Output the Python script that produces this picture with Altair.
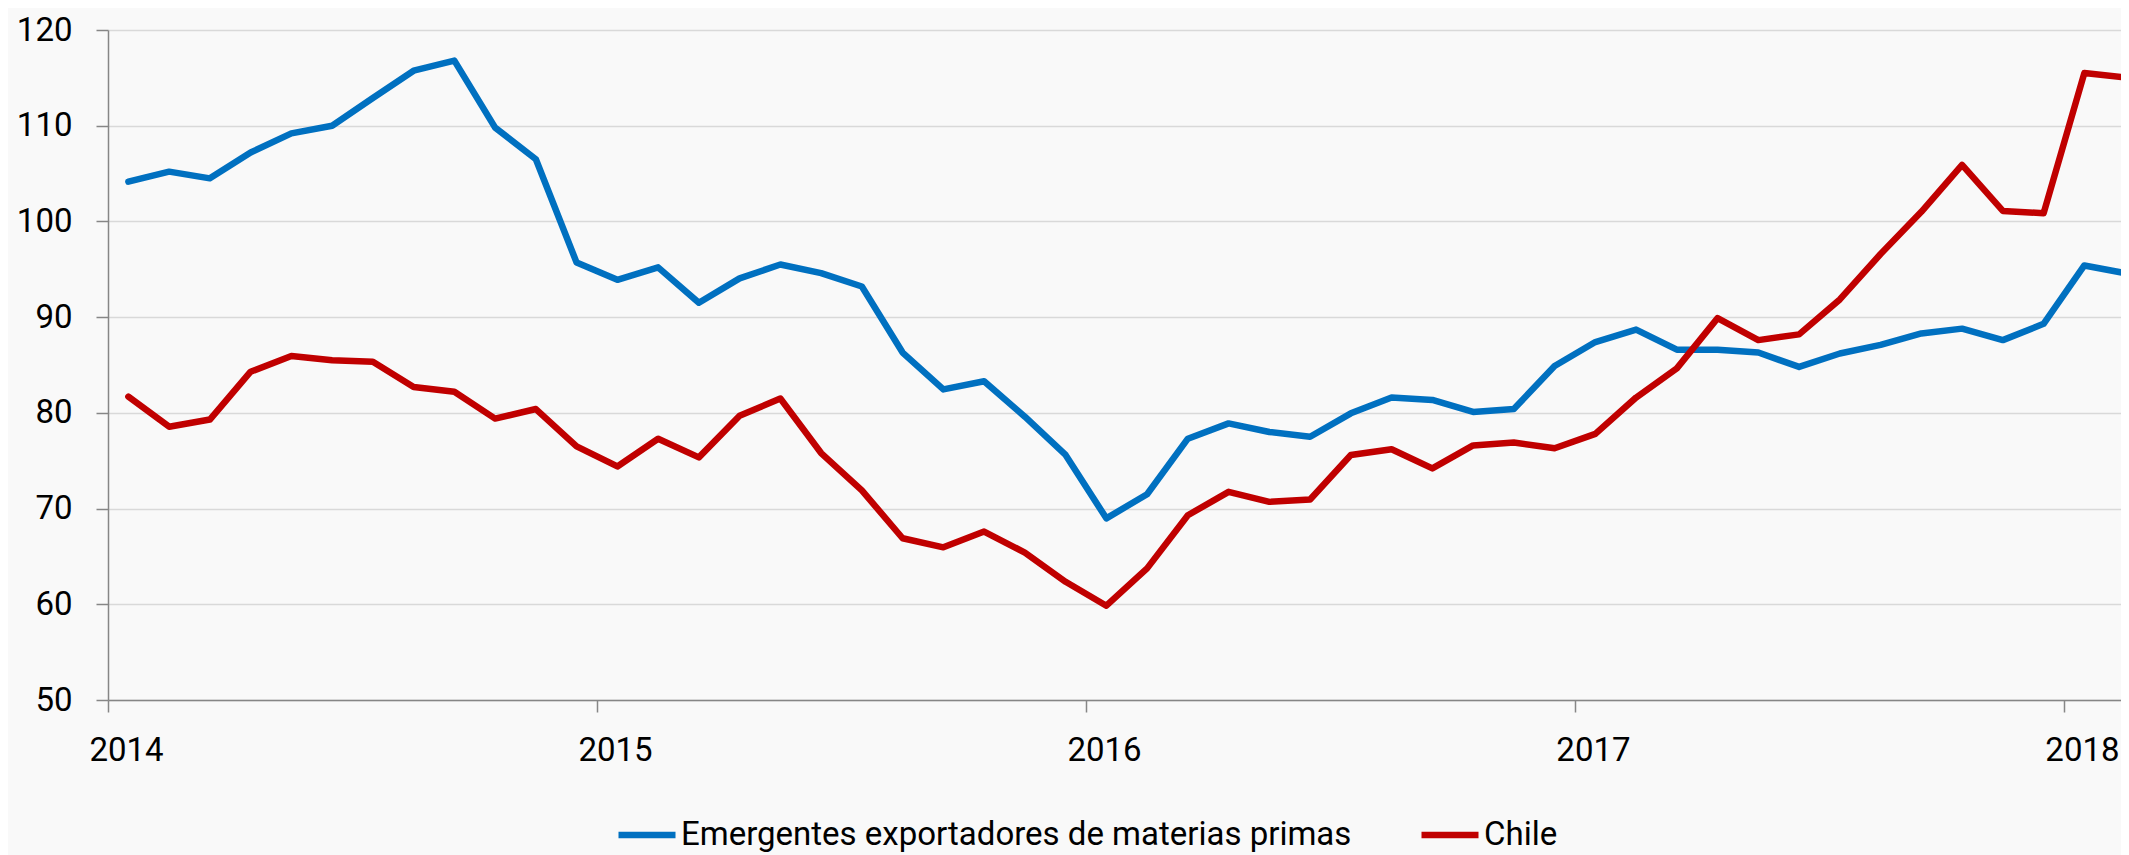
import altair as alt
import pandas as pd

# Monthly index, Jan 2014 .. Feb 2018
months = [f"{y}-{m:02d}" for y in range(2014, 2019) for m in range(1, 13)][:50]

serie_names = ["Emergentes exportadores de materias primas", "Chile"]

emergentes = [104.15, 105.2, 104.5, 107.2, 109.2, 110.0, 112.9, 115.75, 116.8, 109.8,
              106.5, 95.7, 93.9, 95.2, 91.5, 94.05, 95.5, 94.6, 93.2, 86.3,
              82.45, 83.3, 79.6, 75.6, 68.98, 71.5, 77.3, 78.9, 78.0, 77.5,
              79.95, 81.6, 81.35, 80.1, 80.4, 84.9, 87.4, 88.7, 86.6, 86.6,
              86.3, 84.8, 86.2, 87.1, 88.3, 88.8, 87.6, 89.3, 95.4, 94.6]

chile = [81.7, 78.55, 79.3, 84.3, 85.95, 85.5, 85.35, 82.7, 82.2, 79.4,
         80.4, 76.5, 74.4, 77.3, 75.35, 79.7, 81.5, 75.8, 71.9, 66.9,
         65.95, 67.6, 65.4, 62.35, 59.85, 63.75, 69.3, 71.75, 70.7, 70.95,
         75.6, 76.2, 74.2, 76.6, 76.9, 76.3, 77.8, 81.6, 84.65, 89.9,
         87.6, 88.2, 91.85, 96.6, 101.0, 105.9, 101.1, 100.85, 115.5, 115.05]

year_ticks = [-0.5, 11.5, 23.5, 35.5, 47.5]
y_ticks = [50, 60, 70, 80, 90, 100, 110, 120]

rows = []
for name, vals in zip(serie_names, [emergentes, chile]):
    for i, (m, v) in enumerate(zip(months, vals)):
        rows.append({"mes": m, "idx": i, "serie": name, "valor": v})
df = pd.DataFrame(rows)

FONT = "Roboto"
FS = 33
AX = "#868686"

chart = (
    alt.Chart(df)
    .mark_line(strokeWidth=6.5, strokeCap="round", strokeJoin="round", clip=True)
    .encode(
        x=alt.X(
            "idx:Q",
            scale=alt.Scale(domain=[-0.5, 48.9], nice=False, zero=False),
            axis=alt.Axis(
                values=year_ticks,
                labelExpr="toString(2014 + round((datum.value + 0.5) / 12))",
                labelOffset=18,
                grid=False,
                title=None,
                tickSize=12,
                labelPadding=22,
                labelFontSize=FS,
                labelFont=FONT,
                labelColor="#000000",
                domainColor=AX,
                domainWidth=1.5,
                tickColor=AX,
                tickWidth=1.5,
                labelFlush=False,
                labelOverlap=False,
            ),
        ),
        y=alt.Y(
            "valor:Q",
            scale=alt.Scale(domain=[50, 120], nice=False, zero=False),
            axis=alt.Axis(
                values=y_ticks,
                title=None,
                grid=True,
                gridColor="#d9d9d9",
                gridWidth=1.5,
                tickSize=12,
                labelPadding=24,
                labelFontSize=FS,
                labelFont=FONT,
                labelColor="#000000",
                domainColor=AX,
                domainWidth=1.5,
                tickColor=AX,
                tickWidth=1.5,
                labelOverlap=False,
            ),
        ),
        color=alt.Color(
            "serie:N",
            sort=serie_names,
            scale=alt.Scale(domain=serie_names, range=["#0070C0", "#C00000"]),
            legend=alt.Legend(
                orient="none",
                legendX=507,
                legendY=773,
                direction="horizontal",
                title=None,
                symbolType="stroke",
                symbolStrokeWidth=6.5,
                symbolSize=3249,
                labelFontSize=FS,
                labelFont=FONT,
                labelColor="#000000",
                labelOffset=2,
                columnPadding=56,
                padding=0,
                labelLimit=2000,
            ),
        ),
        detail="serie:N",
    )
    .properties(
        width=2013,
        height=670,
        autosize=alt.AutoSizeParams(type="none"),
        padding={"left": 100, "top": 22, "right": 0, "bottom": 155},
        background="#f9f9f9",
    )
    .configure_view(strokeWidth=0)
)

chart.save("out.html", embed_options={"renderer": "svg", "actions": False})
